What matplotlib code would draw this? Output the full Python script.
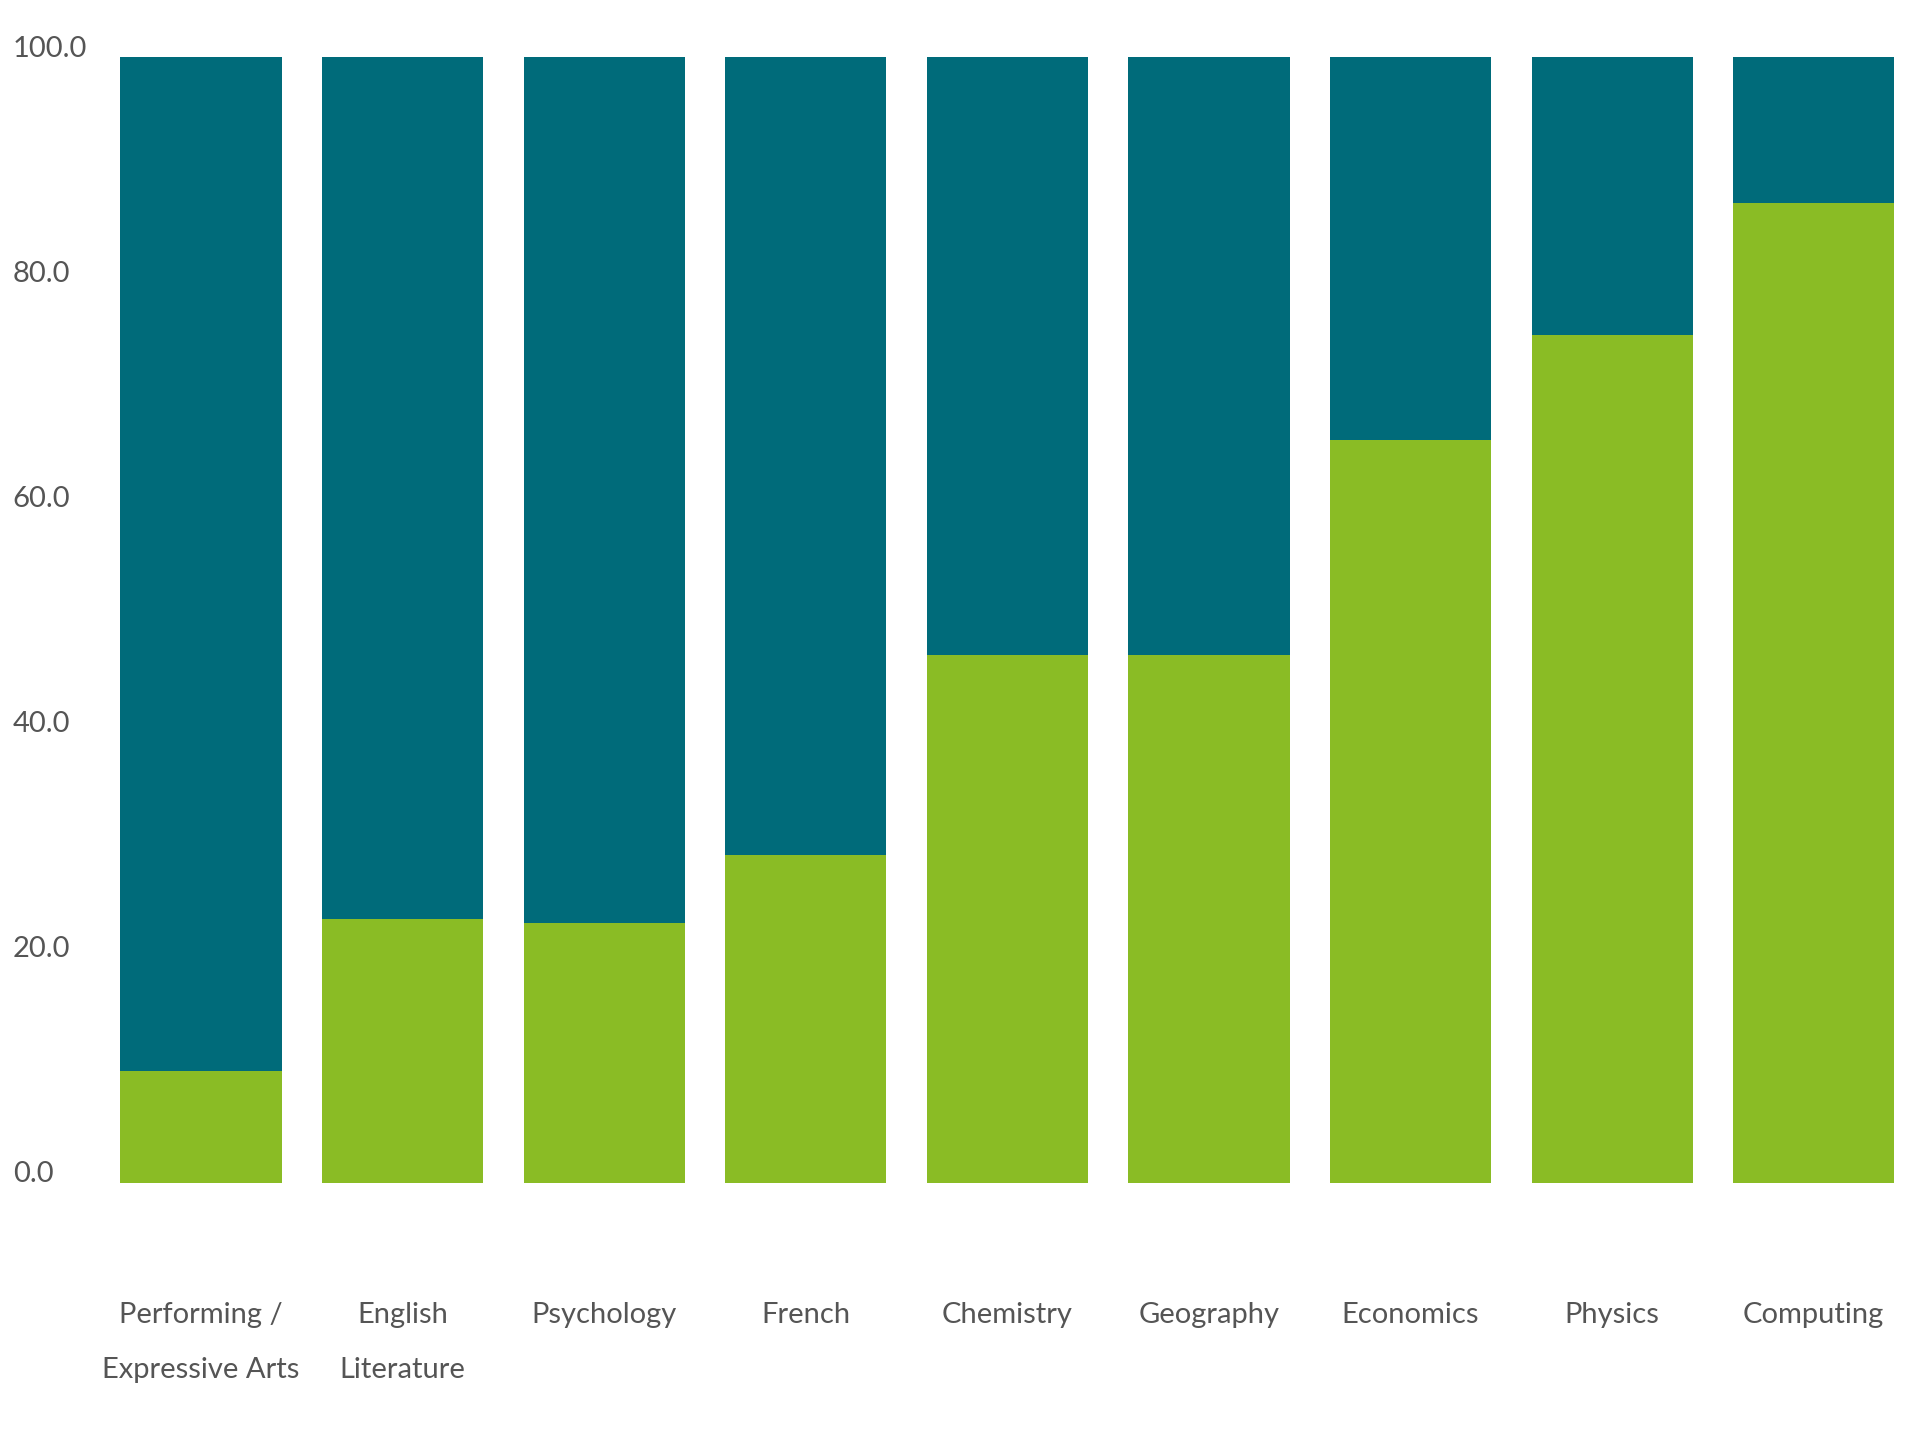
import matplotlib
matplotlib.use("Agg")
import matplotlib.pyplot as plt
import matplotlib.transforms as mtransforms
import numpy as np

# 数据（从图中读取，单位 %）
subjects = ["Performing /\nExpressive Arts", "English\nLiterature", "Psychology", "French",
            "Chemistry", "Geography", "Economics", "Physics", "Computing"]
green_share = [9.9, 23.4, 23.1, 29.1, 46.9, 46.9, 66.0, 75.3, 87.0]
teal_share = [100 - g for g in green_share]
y_ticks = [0, 20, 40, 60, 80, 100]

GREEN = "#8abc25"
TEAL = "#006b7a"
TEXT = "#555555"

plt.rcParams["font.family"] = ["Lato", "DejaVu Sans"]

fig = plt.figure(figsize=(19.2, 14.4), dpi=100)
ax = fig.add_axes([0.0522, 0.1785, 0.9397, 0.7819])

x = np.arange(len(subjects))
ax.bar(x, green_share, width=0.80, color=GREEN)
ax.bar(x, teal_share, width=0.80, bottom=green_share, color=TEAL)

ax.set_xlim(-0.5, 8.45)
ax.set_ylim(0, 100)

for s in ax.spines.values():
    s.set_visible(False)

ax.set_yticks(y_ticks)
ax.set_yticklabels([f"{t:.1f}" for t in y_ticks])
ax.tick_params(axis="y", length=0, pad=63, labelsize=21, labelcolor=TEXT)
# 标签整体略高于刻度位置，并左对齐
shift = mtransforms.ScaledTranslation(0, 0.11, fig.dpi_scale_trans)
for lab in ax.get_yticklabels():
    lab.set_horizontalalignment("left")
    lab.set_transform(lab.get_transform() + shift)

ax.set_xticks(x)
ax.set_xticklabels(subjects, linespacing=2.35)
ax.tick_params(axis="x", length=0, pad=86, labelsize=21, labelcolor=TEXT)
for lab in ax.get_xticklabels():
    lab.set_verticalalignment("top")

fig.savefig("out.png", dpi=100, facecolor="white")
